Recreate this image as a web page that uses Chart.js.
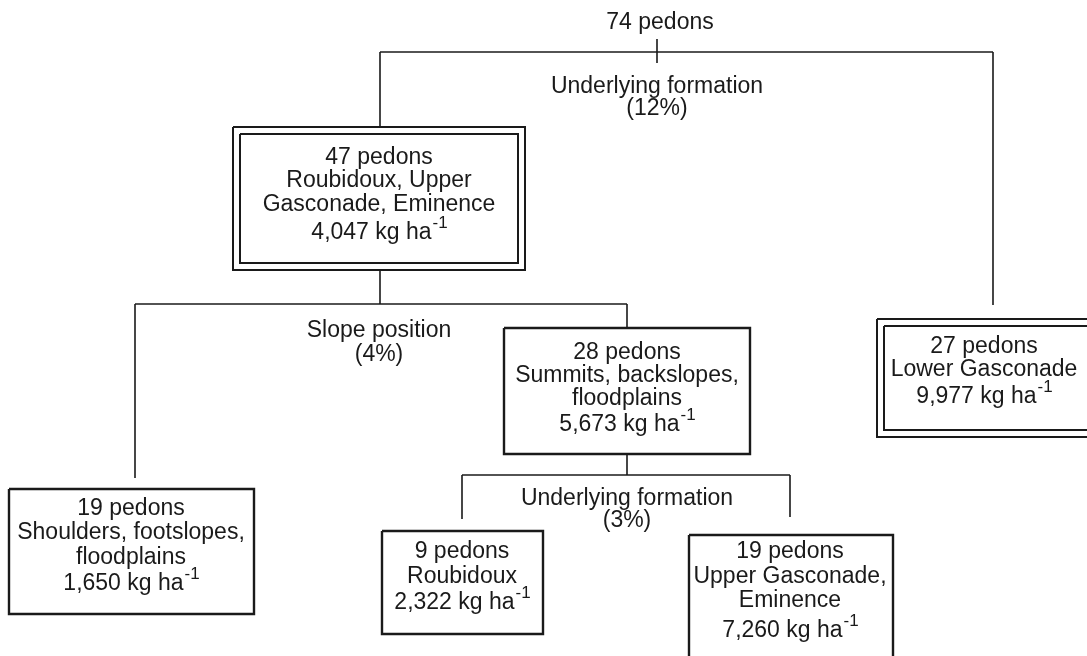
<!DOCTYPE html>
<html>
<head>
<meta charset="utf-8">
<script src="https://cdn.jsdelivr.net/npm/chart.js@4"></script>
<style>
  body { margin: 0; background: #fff; }
  #wrap { width: 1087px; height: 656px; }
</style>
</head>
<body>
<div id="wrap"><canvas id="tree"></canvas></div>
<script>
// node contents (root first, then children in reading order)
const nodeCounts = [74, 47, 27, 19, 28, 9, 19];
const nodeGroups = [
  [],
  ['Roubidoux, Upper', 'Gasconade, Eminence'],
  ['Lower Gasconade'],
  ['Shoulders, footslopes,', 'floodplains'],
  ['Summits, backslopes,', 'floodplains'],
  ['Roubidoux'],
  ['Upper Gasconade,', 'Eminence']
];
const nodeCarbon = [null, '4,047', '9,977', '1,650', '5,673', '2,322', '7,260'];
const splitVariables = ['Underlying formation', 'Slope position', 'Underlying formation'];
const splitImportance = [12, 4, 3];
const splitParent = [0, 1, 4];
const splitChildren = [[1, 2], [3, 4], [5, 6]];

// layout: box [left, top, right, bottom], double border, text line centres
const nodeBox = [
  null,
  [233, 127, 525, 270],
  [877, 319, 1100, 437],
  [9, 489, 254, 614],
  [504, 328, 750, 454],
  [382, 531, 543, 634],
  [689, 535, 893, 680]
];
const nodeDouble = [false, true, true, false, false, false, false];
const nodeTextX = [660, 379, 984, 131, 627, 462, 790];
const nodeTextY = [
  [22],
  [157, 180, 204, 232],
  [346, 369, 396],
  [508, 532, 557, 583],
  [352, 375, 398, 424],
  [551, 576, 602],
  [551, 576, 600, 630]
];
// split layout: stem x, stem top, bar y, child drop x, child drop end, label x/y
const splitStemX = [657, 380, 627];
const splitStemTop = [39, 270, 454];
const splitBarY = [52, 304, 475];
const splitDropX = [[380, 993], [135, 627], [462, 790]];
const splitDropEnd = [[127, 305], [478, 328], [519, 517]];
const splitLabelX = [657, 379, 627];
const splitLabelY = [[86, 108], [330, 354], [498, 520]];

const ink = '#1a1a1a';
const fontMain = '23px "Liberation Sans", Arial, sans-serif';
const fontSup = '17px "Liberation Sans", Arial, sans-serif';

function seg(x1, y1, x2, y2, w) {
  return {
    data: [{x: x1, y: y1}, {x: x2, y: y2}],
    showLine: true, borderColor: ink, borderWidth: w,
    pointRadius: 0, pointHoverRadius: 0, fill: false
  };
}
function rect(b, w) {
  return {
    data: [{x: b[0], y: b[1]}, {x: b[2], y: b[1]}, {x: b[2], y: b[3]}, {x: b[0], y: b[3]}, {x: b[0], y: b[1]}],
    showLine: true, borderColor: ink, borderWidth: w,
    pointRadius: 0, pointHoverRadius: 0, fill: false, borderJoinStyle: 'miter'
  };
}

const datasets = [];
splitParent.forEach((p, i) => {
  const x = splitStemX[i];
  const bottom = i === 0 ? 63 : splitBarY[i];
  datasets.push(seg(x, splitStemTop[i], x, bottom, 1.6));
  const dx = splitDropX[i];
  datasets.push(seg(dx[0], splitBarY[i], dx[1], splitBarY[i], 1.6));
  dx.forEach((cx, k) => datasets.push(seg(cx, splitBarY[i], cx, splitDropEnd[i][k], 1.6)));
});
nodeBox.forEach((b, i) => {
  if (!b) return;
  if (nodeDouble[i]) {
    datasets.push(rect(b, 2));
    datasets.push(rect([b[0] + 7, b[1] + 7, b[2] - 7, b[3] - 7], 2));
  } else {
    datasets.push(rect(b, 2.4));
  }
});

const labelPlugin = {
  id: 'labels',
  afterDatasetsDraw(chart) {
    const ctx = chart.ctx;
    const sx = v => chart.scales.x.getPixelForValue(v);
    const sy = v => chart.scales.y.getPixelForValue(v) + 1;
    ctx.save();
    ctx.fillStyle = ink;
    ctx.textBaseline = 'middle';
    ctx.textAlign = 'center';
    ctx.font = fontMain;
    const plain = (t, x, y) => ctx.fillText(t, sx(x), sy(y));
    const carbon = (v, x, y) => {
      const main = v + ' kg ha';
      ctx.font = fontMain;
      const w1 = ctx.measureText(main).width;
      ctx.font = fontSup;
      const w2 = ctx.measureText('-1').width;
      const left = sx(x) - (w1 + w2) / 2;
      ctx.textAlign = 'left';
      ctx.font = fontMain;
      ctx.fillText(main, left, sy(y));
      ctx.font = fontSup;
      ctx.fillText('-1', left + w1 + 1, sy(y) - 10);
      ctx.textAlign = 'center';
      ctx.font = fontMain;
    };
    nodeCounts.forEach((n, i) => {
      const ys = nodeTextY[i];
      plain(n + ' pedons', nodeTextX[i], ys[0]);
      nodeGroups[i].forEach((g, k) => plain(g, nodeTextX[i], ys[k + 1]));
      if (nodeCarbon[i]) carbon(nodeCarbon[i], nodeTextX[i], ys[ys.length - 1]);
    });
    splitVariables.forEach((v, i) => {
      plain(v, splitLabelX[i], splitLabelY[i][0]);
      plain('(' + splitImportance[i] + '%)', splitLabelX[i], splitLabelY[i][1]);
    });
    ctx.restore();
  }
};

new Chart(document.getElementById('tree'), {
  type: 'scatter',
  data: { datasets },
  options: {
    responsive: true,
    maintainAspectRatio: false,
    animation: false,
    layout: { padding: 0 },
    plugins: { legend: { display: false }, tooltip: { enabled: false } },
    events: [],
    scales: {
      x: { type: 'linear', min: 0, max: 1087, display: false },
      y: { type: 'linear', min: 0, max: 656, reverse: true, display: false }
    }
  },
  plugins: [labelPlugin]
});
</script>
</body>
</html>
